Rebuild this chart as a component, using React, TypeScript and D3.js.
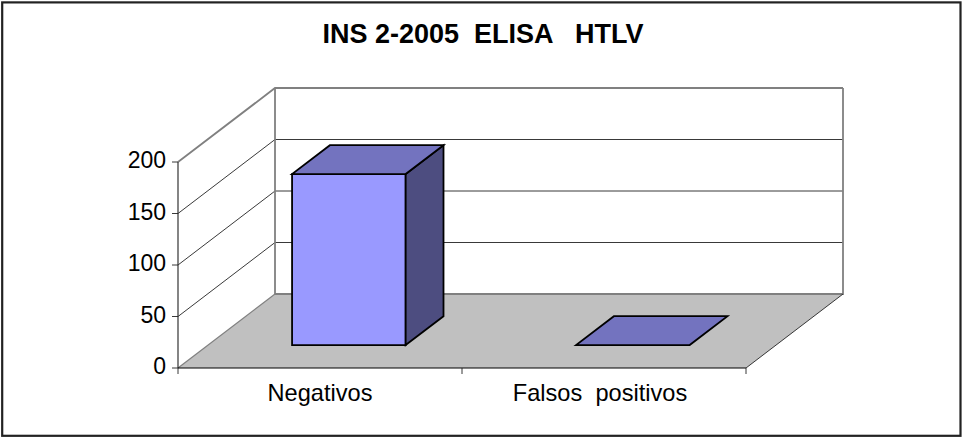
import React from 'react';
import * as d3 from 'd3';

const title = 'INS 2-2005  ELISA   HTLV';
const categories = ['Negativos', 'Falsos  positivos'];
const values = [166, 0];
const yTicks = [0, 50, 100, 150, 200];

const width = 962;
const height = 437;
const font = '"Liberation Sans", Arial, sans-serif';

export default function App() {
  const x = d3.scaleBand<string>().domain(categories).range([178, 746]).paddingInner(0.6).paddingOuter(0.3);
  const y = d3.scaleLinear().domain([0, 200]).range([368, 162]);
  // depth of the 3d box, 0 = front plane, 1 = back wall
  const depthX = d3.scaleLinear().domain([0, 1]).range([0, 97]);
  const depthY = d3.scaleLinear().domain([0, 1]).range([0, -74]);

  const pt = (px: number, py: number, d: number) => [px + depthX(d), py + depthY(d)] as [number, number];
  const poly = d3.line();

  const x0 = x.range()[0];
  const x1 = x.range()[1];
  const y0 = y(0);
  const gridVals = yTicks.slice(1);
  const barFront = 0.31;
  const barBack = 0.7;
  const barShift = -1.2;

  return (
    <svg
      width={width}
      height={height}
      style={{ position: 'absolute', left: 0, top: 0, background: '#fff' }}
      fontFamily={font}
    >
      <rect x={2.2} y={2.4} width={958.3} height={433.4} fill="#fff" stroke="#222" strokeWidth={2.2} />
      <text x={483} y={43} textAnchor="middle" fontSize={27} fontWeight="bold" style={{ whiteSpace: 'pre' }}>
        {title}
      </text>

      {/* floor */}
      <path
        d={poly([pt(x0, y0, 0), pt(x1, y0, 0), pt(x1, y0, 1), pt(x0, y0, 1)]) + 'Z'}
        fill="#c0c0c0"
      />

      {/* gridlines on side wall and back wall */}
      {gridVals.map((v) => (
        <path
          key={v}
          d={poly([pt(x0, y(v), 0), pt(x0, y(v), 1), pt(x1, y(v), 1)]) ?? ''}
          fill="none"
          stroke={v === 200 ? '#808080' : '#222'}
          strokeWidth={v === 200 ? 1.8 : 0.9}
        />
      ))}

      {/* wall edges */}
      <path
        d={poly([pt(x0, y(200), 1), pt(x0, y0, 1), pt(x1, y0, 1), pt(x1, y(200), 1)]) ?? ''}
        fill="none"
        stroke="#808080"
        strokeWidth={1.8}
      />
      <path d={poly([pt(x0, y0, 0), pt(x0, y0, 1)]) ?? ''} stroke="#808080" strokeWidth={1.2} fill="none" />
      <path d={poly([pt(x1, y0, 0), pt(x1, y0, 1)]) ?? ''} stroke="#222" strokeWidth={0.9} fill="none" />

      {/* bars */}
      {categories.map((c, i) => {
        const left = (x(c) as number) + barShift;
        const right = left + x.bandwidth();
        const top = y(values[i]);
        const fl = pt(left, y0, barFront);
        const fr = pt(right, y0, barFront);
        const tl = pt(left, top, barFront);
        const tr = pt(right, top, barFront);
        const br = pt(right, y0, barBack);
        const tbr = pt(right, top, barBack);
        const tbl = pt(left, top, barBack);
        return (
          <g key={c} stroke="#000" strokeWidth={1.8} strokeLinejoin="miter">
            {values[i] > 0 && <path d={poly([fl, fr, tr, tl]) + 'Z'} fill="#9999ff" />}
            {values[i] > 0 && <path d={poly([fr, br, tbr, tr]) + 'Z'} fill="#4d4d80" />}
            <path d={poly([tl, tr, tbr, tbl]) + 'Z'} fill="#7373bf" />
          </g>
        );
      })}

      {/* value axis */}
      <line x1={x0} x2={x0} y1={y(200)} y2={y0} stroke="#333" strokeWidth={1.2} />
      {yTicks.map((v) => (
        <g key={v}>
          <line x1={x0 - 6} x2={x0} y1={y(v)} y2={y(v)} stroke="#222" strokeWidth={0.9} />
          <text x={166} y={y(v) + 6} textAnchor="end" fontSize={23}>
            {v}
          </text>
        </g>
      ))}

      {/* category axis */}
      <line x1={x0} x2={x1} y1={y0} y2={y0} stroke="#000" strokeWidth={1.1} />
      {[x0, (x0 + x1) / 2, x1].map((t) => (
        <line key={t} x1={t} x2={t} y1={y0} y2={y0 + 6} stroke="#222" strokeWidth={0.9} />
      ))}
      {categories.map((c, i) => (
        <text
          key={c}
          x={(x(c) as number) + x.bandwidth() / 2}
          dx={i === 1 ? -4 : 0}
          y={401}
          textAnchor="middle"
          fontSize={23.6}
          style={{ whiteSpace: 'pre' }}
        >
          {c}
        </text>
      ))}
    </svg>
  );
}
